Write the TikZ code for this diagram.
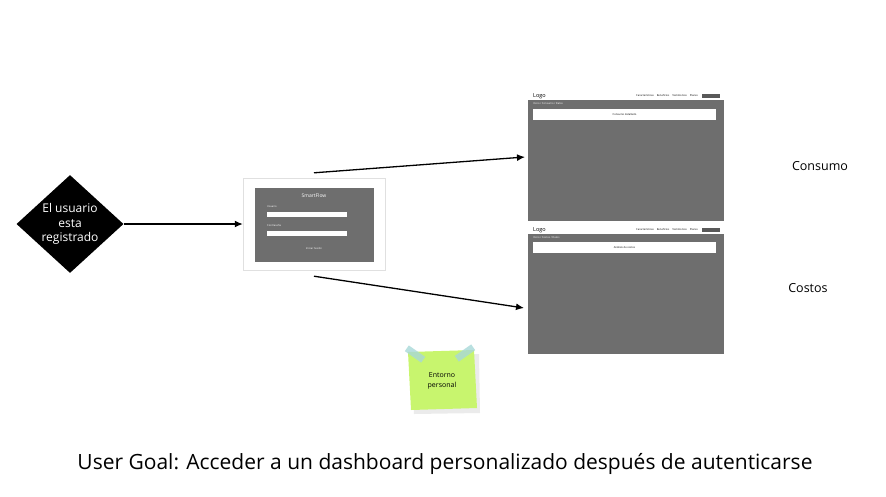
\documentclass[tikz,border=0pt]{standalone}
\usepackage{fontspec}
\setmainfont{Open Sans}
\usetikzlibrary{positioning,shapes.geometric,arrows.meta}

\definecolor{panelgray}{HTML}{6E6E6E}
\definecolor{notegreen}{HTML}{C8F56E}
\definecolor{tapeblue}{HTML}{A8D8D8}

\begin{document}
\begin{tikzpicture}[x=1pt, y=-1pt,
  d/.style={diamond, fill=black, text=white, inner sep=0pt, minimum width=107pt, minimum height=87pt, align=center, font=\fontsize{12}{14.5}\selectfont},
  scr/.style={fill=panelgray, inner sep=0pt},
  bar/.style={fill=white, inner sep=0pt, font=\fontsize{2.6}{3}\selectfont},
  tiny/.style={inner sep=0pt, font=\fontsize{2.6}{3}\selectfont},
  a/.style={-{Latex[length=8pt,width=7pt]}, line width=1.3pt}]
  \useasboundingbox (0,0) rectangle (886,496);

  % start
  \node[d] (D) at (70,224) {El usuario\\esta\\registrado};

  % login screen
  \node[draw=black!12, fill=white, minimum width=142pt, minimum height=92pt, inner sep=0pt] (L) at (314,224) {};
  \node[scr, minimum width=119pt, minimum height=74pt] (LP) at (314.5,225) {};
  \node[inner sep=0pt, text=white, font=\fontsize{5}{6}\selectfont] (L_title) at (314,196) {SmartFlow};
  \node[tiny, text=white, anchor=west] (L_user) at (267,206.5) {Usuario};
  \node[fill=white, minimum width=80pt, minimum height=5pt, inner sep=0pt, anchor=north west] (L_userbox) at (267,212) {};
  \node[tiny, text=white, anchor=west] (L_pass) at (267,225.5) {Contraseña};
  \node[fill=white, minimum width=80pt, minimum height=5pt, inner sep=0pt, anchor=north west] (L_passbox) at (267,231) {};
  \node[tiny, text=white] (L_btn) at (314,249) {Iniciar Sesión};

  % dashboard consumo
  \node[scr, minimum width=196pt, minimum height=129pt] (A) at (626,156.5) {};
  \node[fill=white, minimum width=196pt, minimum height=8pt, inner sep=0pt] (A_head) at (626,96) {};
  \node[inner sep=0pt, anchor=west, font=\fontsize{5.5}{6}\selectfont] (A_logo) at (533,96.5) {Logo};
  \node[tiny, anchor=east] (A_nav) at (698,96) {Características\hspace{3pt}Beneficios\hspace{3pt}Testimonios\hspace{3pt}Planes};
  \node[fill=black!65, minimum width=18pt, minimum height=3.5pt, inner sep=0pt] (A_btn) at (711,96) {};
  \node[tiny, text=white, anchor=west] (A_crumb) at (533,104) {Inicio / Consumo / Datos};
  \node[bar, minimum width=183pt, minimum height=11pt] (A_bar) at (624.5,114.5) {Consumo detallado};

  % dashboard costos
  \node[scr, minimum width=196pt, minimum height=128pt] (B) at (626,290) {};
  \node[fill=white, minimum width=196pt, minimum height=8pt, inner sep=0pt] (B_head) at (626,230) {};
  \node[inner sep=0pt, anchor=west, font=\fontsize{5.5}{6}\selectfont] (B_logo) at (533,230.5) {Logo};
  \node[tiny, anchor=east] (B_nav) at (698,230) {Características\hspace{3pt}Beneficios\hspace{3pt}Testimonios\hspace{3pt}Planes};
  \node[fill=black!65, minimum width=18pt, minimum height=3.5pt, inner sep=0pt] (B_btn) at (711,230) {};
  \node[tiny, text=white, anchor=west] (B_crumb) at (533,238) {Inicio / Costos / Datos};
  \node[bar, minimum width=183pt, minimum height=11pt] (B_bar) at (624.5,247.5) {Análisis de costos};

  % labels
  \node[font=\fontsize{12.5}{14}\selectfont] (A_label) at (820,166) {Consumo};
  \node[font=\fontsize{12.5}{14}\selectfont] (B_label) at (808,288) {Costos};

  % sticky note
  \fill[black!8] (412,355) -- (479,354) -- (480,413) -- (414,414) -- cycle;
  \fill[notegreen] (408,352) -- (474,350) -- (477,408) -- (411,410) -- cycle;
  \node[align=center, font=\fontsize{7}{9.5}\selectfont] (N) at (442,381) {Entorno\\personal};
  \node[fill=tapeblue, opacity=.8, minimum width=20pt, minimum height=7pt, inner sep=0pt, rotate=-35] (N_tape1) at (415,354) {};
  \node[fill=tapeblue, opacity=.8, minimum width=20pt, minimum height=7pt, inner sep=0pt, rotate=35] (N_tape2) at (465,353) {};

  % title
  \node[font=\fontsize{21}{24}\selectfont] (T) at (445,464) {User Goal: Acceder a un dashboard personalizado después de autenticarse};

  % arrows
  \coordinate (A_in) at (525,157);
  \coordinate (B_in) at (524,308);
  \draw[a] (D.east) -- (L.west);
  \draw[a] ([yshift=5pt]L.north) -- (A_in);
  \draw[a] ([yshift=-6pt]L.south) -- (B_in);
\end{tikzpicture}
\end{document}
